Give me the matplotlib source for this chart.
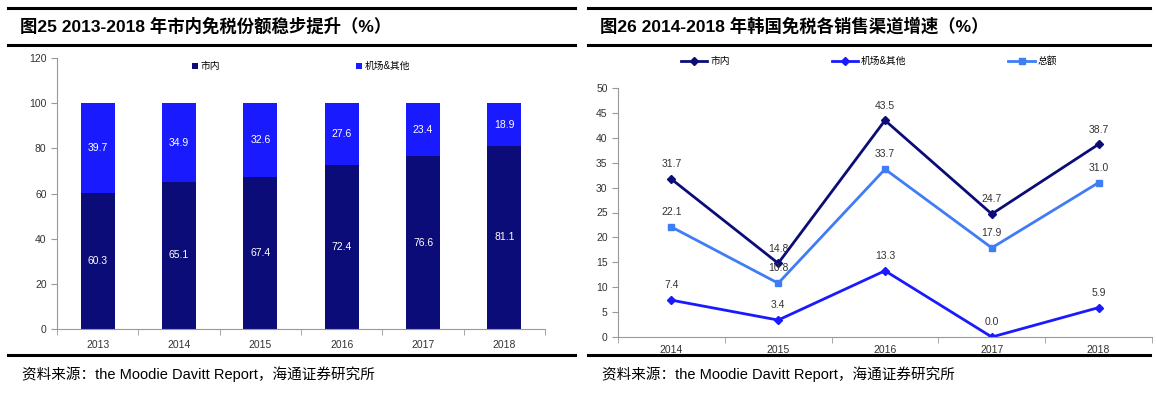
import matplotlib.pyplot as plt
from matplotlib.lines import Line2D

# data
years_left = ["2013", "2014", "2015", "2016", "2017", "2018"]
city = [60.3, 65.1, 67.4, 72.4, 76.6, 81.1]
airport = [39.7, 34.9, 32.6, 27.6, 23.4, 18.9]

years_right = ["2014", "2015", "2016", "2017", "2018"]
g_city = [31.7, 14.8, 43.5, 24.7, 38.7]
g_airport = [7.4, 3.4, 13.3, 0.0, 5.9]
g_total = [22.1, 10.8, 33.7, 17.9, 31.0]

FAM = ['Liberation Sans', 'Noto Sans CJK SC']
plt.rcParams['font.family'] = FAM

navy = '#0c0c78'
blue = '#1a1aff'
light = '#3f7cf5'
tick_c = '#333333'

fig = plt.figure(figsize=(11.56, 3.94), dpi=100)
W, H = 1156, 394

def fx(px):
    return px / W

def fy(py):
    return 1 - py / H

# title bands and source lines
for x0, x1, title in [(8, 575, "图25 2013-2018 年市内免税份额稳步提升（%）"),
                      (588, 1150, "图26 2014-2018 年韩国免税各销售渠道增速（%）")]:
    for y in (8, 45, 355):
        fig.add_artist(Line2D([fx(x0), fx(x1)], [fy(y), fy(y)], color='black', lw=2.2))
    fig.text(fx(x0 + 12), fy(26), title, fontsize=12.5, fontweight='bold',
             va='center', ha='left', family=FAM)
    fig.text(fx(x0 + 14), fy(374), "资料来源：the Moodie Davitt Report，海通证券研究所",
             fontsize=10.5, va='center', ha='left', family=FAM)

# left: stacked bars
ax1 = fig.add_axes([fx(57), fy(329), fx(545 - 57), fy(58) - fy(329)])
x = range(len(years_left))
ax1.bar(x, city, width=0.42, color=navy, label='市内')
ax1.bar(x, airport, width=0.42, bottom=city, color=blue, label='机场&其他')
for i in x:
    ax1.text(i, city[i] / 2, f"{city[i]:.1f}", color='white', ha='center', va='center', fontsize=7.5)
    ax1.text(i, city[i] + airport[i] / 2, f"{airport[i]:.1f}", color='white',
             ha='center', va='center', fontsize=7.5)
ax1.set_xlim(-0.5, len(years_left) - 0.5)
ax1.set_ylim(0, 120)
ax1.set_yticks(range(0, 121, 20))
ax1.set_xticks(x)
ax1.set_xticklabels(years_left)
ax1.set_xticks([i + 0.5 for i in range(-1, len(years_left))], minor=True)
ax1.tick_params(axis='x', which='major', length=0, labelsize=7.5, colors=tick_c, pad=8)
ax1.tick_params(axis='x', which='minor', length=4, color='#999999')
ax1.tick_params(axis='y', length=4, labelsize=7.5, colors=tick_c, color='#999999')
for s in ('top', 'right'):
    ax1.spines[s].set_visible(False)
for s in ('left', 'bottom'):
    ax1.spines[s].set_color('#999999')
ax1.legend(loc='upper center', bbox_to_anchor=(0.5, 1.02), ncol=2, frameon=False,
           fontsize=7, handlelength=0.6, handleheight=0.6, columnspacing=14, handletextpad=0.3)

# right: lines
ax2 = fig.add_axes([fx(618), fy(337), fx(1152 - 618), fy(88) - fy(337)])
xr = range(len(years_right))
ax2.plot(xr, g_city, color=navy, lw=2, marker='D', ms=4, label='市内')
ax2.plot(xr, g_airport, color=blue, lw=2, marker='D', ms=4, label='机场&其他')
ax2.plot(xr, g_total, color=light, lw=2, marker='s', ms=4.5, label='总额')
for series in (g_city, g_total, g_airport):
    for i in xr:
        ax2.annotate(f"{series[i]:.1f}", (i, series[i]), xytext=(0, 7), textcoords='offset points',
                     ha='center', va='bottom', fontsize=7.5, color=tick_c)
ax2.set_xlim(-0.5, len(years_right) - 0.5)
ax2.set_ylim(0, 50)
ax2.set_yticks(range(0, 51, 5))
ax2.set_xticks(xr)
ax2.set_xticklabels(years_right)
ax2.set_xticks([i + 0.5 for i in range(-1, len(years_right))], minor=True)
ax2.tick_params(axis='x', which='major', length=0, labelsize=7.5, colors=tick_c, pad=6)
ax2.tick_params(axis='x', which='minor', length=4, color='#999999')
ax2.tick_params(axis='y', length=4, labelsize=7.5, colors=tick_c, color='#999999')
for s in ('top', 'right'):
    ax2.spines[s].set_visible(False)
for s in ('left', 'bottom'):
    ax2.spines[s].set_color('#999999')
ax2.legend(loc='center', bbox_to_anchor=(0.47, 1.108), ncol=3, frameon=False,
           fontsize=7, handlelength=2.7, columnspacing=10.5, handletextpad=0.3)

fig.savefig('out.png', dpi=100)
